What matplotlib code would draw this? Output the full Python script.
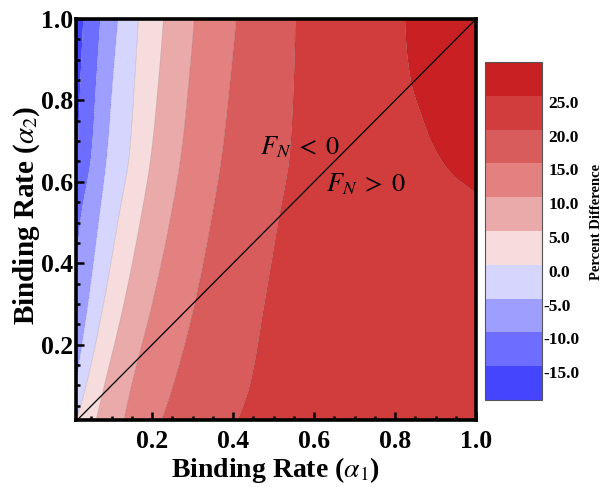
import numpy as np
import matplotlib
matplotlib.use("Agg")
import matplotlib.pyplot as plt
from matplotlib.ticker import MultipleLocator, FixedLocator
from matplotlib.transforms import ScaledTranslation, blended_transform_factory

# ---------------- data ----------------
levels = [-20, -15, -10, -5, 0, 5, 10, 15, 20, 25, 30]
band_colors = ["#4545fe", "#6d6dff", "#9e9eff", "#d5d5fd", "#f6dcdc",
               "#ebaaaa", "#e38080", "#d85c5c", "#d13c3c", "#c82023"]
cbar_tick_values = [-15, -10, -5, 0, 5, 10, 15, 20, 25]
cbar_tick_labels = ["-15.0", "-10.0", "-5.0", "0.0", "5.0", "10.0", "15.0", "20.0", "25.0"]

# alpha1 position of each contour boundary at rows of alpha2
row_alpha2 = [0.0, 0.1, 0.3, 0.5, 0.67, 0.85, 1.0]
bnd_m15 = [-0.030, -0.020, 0.000, 0.010, 0.016, 0.023, 0.030]
bnd_m10 = [-0.020, -0.010, 0.005, 0.022, 0.050, 0.062, 0.072]
bnd_m5 = [0.000, 0.012, 0.042, 0.068, 0.089, 0.103, 0.116]
bnd_0 = [0.008, 0.037, 0.080, 0.115, 0.144, 0.157, 0.166]
bnd_5 = [0.058, 0.082, 0.130, 0.170, 0.198, 0.216, 0.228]
bnd_10 = [0.127, 0.149, 0.200, 0.243, 0.272, 0.291, 0.304]
bnd_15 = [0.218, 0.252, 0.305, 0.345, 0.373, 0.393, 0.408]
bnd_20 = [0.405, 0.441, 0.477, 0.511, 0.540, 0.550, 0.554]
row25_alpha2 = [0.45, 0.57, 0.62, 0.686, 0.767, 0.85, 0.953, 1.0]
bnd_25 = [1.08, 1.00, 0.94, 0.896, 0.864, 0.839, 0.827, 0.825]

# F_N = 0 line (alpha1 = alpha2)
line_alpha1 = [0.0, 1.0]
line_alpha2 = [0.0, 1.0]

x_min, x_max = 0.012, 1.0
y_min, y_max = 0.015, 1.0
major_ticks = [0.2, 0.4, 0.6, 0.8, 1.0]
tick_labels = ["0.2", "0.4", "0.6", "0.8", "1.0"]


def pchip(xk, yk, x):
    """Monotone piecewise-cubic Hermite curve through the read points."""
    xk = np.asarray(xk, float)
    yk = np.asarray(yk, float)
    h = np.diff(xk)
    d = np.diff(yk) / h
    n = len(xk)
    m = np.zeros(n)
    for k in range(1, n - 1):
        if d[k - 1] * d[k] > 0:
            w1 = 2 * h[k] + h[k - 1]
            w2 = h[k] + 2 * h[k - 1]
            m[k] = (w1 + w2) / (w1 / d[k - 1] + w2 / d[k])

    def end(h0, h1, d0, d1):
        mm = ((2 * h0 + h1) * d0 - h0 * d1) / (h0 + h1)
        if np.sign(mm) != np.sign(d0):
            mm = 0.0
        elif np.sign(d0) != np.sign(d1) and abs(mm) > abs(3 * d0):
            mm = 3 * d0
        return mm

    m[0] = end(h[0], h[1], d[0], d[1])
    m[-1] = end(h[-1], h[-2], d[-1], d[-2])
    x = np.clip(np.asarray(x, float), xk[0], xk[-1])
    i = np.clip(np.searchsorted(xk, x) - 1, 0, n - 2)
    t = (x - xk[i]) / h[i]
    h00 = 2 * t**3 - 3 * t**2 + 1
    h10 = t**3 - 2 * t**2 + t
    h01 = -2 * t**3 + 3 * t**2
    h11 = t**3 - t**2
    return h00 * yk[i] + h10 * h[i] * m[i] + h01 * yk[i + 1] + h11 * h[i] * m[i + 1]


# ---------------- build field from boundaries ----------------
xg = np.linspace(x_min, x_max, 800)
yg = np.linspace(y_min, y_max, 800)
inner = [bnd_m15, bnd_m10, bnd_m5, bnd_0, bnd_5, bnd_10, bnd_15, bnd_20]
curves = [pchip(row_alpha2, b, yg) for b in inner]
curves.append(pchip(row25_alpha2, bnd_25, np.clip(yg, row25_alpha2[0], None)))
curves = np.array(curves)
Z = np.empty((len(yg), len(xg)))
for i in range(len(yg)):
    bx = list(curves[:, i])
    xs = [bx[0] - 0.05] + bx + [bx[-1] + 0.2]
    Z[i] = np.interp(xg, xs, levels)

# ---------------- figure ----------------
plt.rcParams["font.family"] = ["Liberation Serif", "DejaVu Serif"]
plt.rcParams["mathtext.fontset"] = "stix"
plt.rcParams["axes.unicode_minus"] = False

fig = plt.figure(figsize=(6.04, 4.87), dpi=100)
ax = fig.add_axes([76 / 604, 1 - 420 / 487, 400 / 604, 401 / 487])

cs = ax.contourf(xg, yg, Z, levels=levels, colors=band_colors, antialiased=True)
ax.contour(xg, yg, Z, levels=levels[1:-1], colors="k", linewidths=0.4, alpha=0.18)
ax.plot(line_alpha1, line_alpha2, color="black", lw=0.9)

ax.set_xlim(x_min, x_max)
ax.set_ylim(y_min, y_max)

ax.xaxis.set_major_locator(FixedLocator(major_ticks))
ax.yaxis.set_major_locator(FixedLocator(major_ticks))
ax.set_xticklabels(tick_labels)
ax.set_yticklabels(tick_labels)
ax.xaxis.set_minor_locator(MultipleLocator(0.05))
ax.yaxis.set_minor_locator(MultipleLocator(0.05))
ax.tick_params(which="both", direction="in", top=False, right=False, width=1.8, color="black")
ax.tick_params(which="major", length=5.5)
ax.tick_params(which="minor", length=3.2)
ax.tick_params(axis="x", which="major", pad=7, labelsize=18.5)
ax.tick_params(axis="y", which="major", pad=2, labelsize=18.5)
for lab in ax.get_xticklabels() + ax.get_yticklabels():
    lab.set_fontweight("bold")
for sp in ax.spines.values():
    sp.set_linewidth(2.6)

ax.set_xlabel(r"Binding Rate ($\alpha_1$)", fontsize=20, fontweight="bold")
ax.set_ylabel(r"Binding Rate ($\alpha_2$)", fontsize=21, fontweight="bold")
ax.xaxis.set_label_coords(0.5, -0.088)
ax.yaxis.set_label_coords(-0.085, 0.51)

ax.text(0.565, 0.686, r"$F_N \;<\; 0$", fontsize=19, ha="center", va="center")
ax.text(0.73, 0.595, r"$F_N \;>\; 0$", fontsize=19, ha="center", va="center")

# ---------------- colorbar ----------------
cax = fig.add_axes([485 / 604, 1 - 400 / 487, 57 / 604, 338 / 487])
cb = fig.colorbar(cs, cax=cax, ticks=[])
cb.outline.set_linewidth(0.8)
cb.outline.set_edgecolor("#555555")
cax.set_ylim(levels[0], levels[-1])
trans = blended_transform_factory(cax.transAxes, cax.transData)
for v, lab in zip(cbar_tick_values, cbar_tick_labels):
    dx = -5 if lab.startswith("-") else 0
    t = trans + ScaledTranslation(dx / 100, -8 / 100, fig.dpi_scale_trans)
    cax.text(1.11, v, lab, transform=t, ha="left", va="center",
             fontsize=12.5, fontweight="bold")
fig.text(597 / 604, 1 - 222 / 487, "Percent Difference", rotation=90,
         ha="center", va="center", fontsize=10.5, fontweight="bold")

fig.savefig("out.png", dpi=100)
